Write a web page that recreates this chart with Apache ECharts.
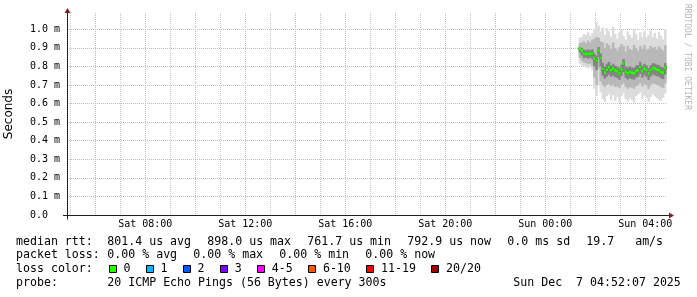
<!DOCTYPE html>
<html><head><meta charset="utf-8">
<script src="https://cdn.jsdelivr.net/npm/echarts@6/dist/echarts.min.js"></script>
<style>html,body{margin:0;padding:0;background:#fff}#c{width:697px;height:297px}</style>
</head><body><div id="c"></div>
<script>
const times = ['01:20','01:25','01:30','01:35','01:40','01:45','01:50','01:55',
  '02:00','02:05','02:10','02:15','02:20','02:25','02:30','02:35','02:40','02:45','02:50','02:55',
  '03:00','03:05','03:10','03:15','03:20','03:25','03:30','03:35','03:40','03:45','03:50','03:55',
  '04:00','04:05','04:10','04:15','04:20','04:25','04:30','04:35','04:40','04:45'];
const median = [0.896,0.885,0.868,0.868,0.868,0.868,0.868,0.842,0.830,0.884,0.846,0.786,0.768,0.782,
  0.796,0.780,0.789,0.779,0.774,0.763,0.784,0.815,0.771,0.763,0.770,0.766,0.763,0.775,0.780,0.797,
  0.774,0.789,0.780,0.762,0.780,0.792,0.789,0.783,0.780,0.770,0.767,0.793];
const smokeMax = [0.955,0.960,0.975,0.970,0.985,0.965,0.980,1.000,1.040,1.020,0.990,1.010,0.970,1.005,
  0.990,0.960,1.015,0.975,0.950,0.985,1.000,0.965,0.945,0.990,0.970,0.955,1.000,0.975,0.945,0.985,
  0.960,0.990,0.955,0.970,0.995,0.960,0.980,0.950,0.985,0.965,0.945,1.000];
const smokeP90 = [0.925,0.930,0.935,0.925,0.940,0.930,0.945,0.950,0.960,0.955,0.935,0.930,0.900,0.925,
  0.915,0.895,0.930,0.900,0.885,0.905,0.920,0.910,0.880,0.910,0.895,0.890,0.915,0.900,0.885,0.910,
  0.895,0.915,0.890,0.895,0.910,0.900,0.905,0.890,0.908,0.895,0.885,0.915];
const smokeP70 = [0.905,0.900,0.890,0.888,0.892,0.886,0.893,0.870,0.860,0.905,0.870,0.820,0.800,0.815,
  0.825,0.805,0.815,0.805,0.800,0.793,0.810,0.840,0.800,0.795,0.800,0.795,0.792,0.805,0.808,0.825,
  0.803,0.815,0.806,0.790,0.807,0.818,0.815,0.810,0.808,0.798,0.795,0.818];
const smokeP55 = [0.900,0.890,0.875,0.874,0.876,0.873,0.876,0.850,0.838,0.890,0.853,0.795,0.776,0.790,
  0.804,0.788,0.797,0.787,0.782,0.771,0.792,0.823,0.779,0.771,0.778,0.774,0.771,0.783,0.788,0.805,
  0.782,0.797,0.788,0.770,0.788,0.800,0.797,0.791,0.788,0.778,0.775,0.801];
const smokeP45 = [0.890,0.878,0.860,0.862,0.860,0.861,0.858,0.832,0.820,0.875,0.838,0.776,0.760,0.773,
  0.787,0.772,0.780,0.770,0.765,0.755,0.775,0.805,0.763,0.755,0.762,0.758,0.755,0.767,0.772,0.789,
  0.766,0.781,0.772,0.754,0.772,0.784,0.781,0.775,0.772,0.762,0.759,0.785];
const smokeP30 = [0.875,0.860,0.845,0.848,0.842,0.846,0.838,0.800,0.780,0.850,0.800,0.750,0.735,0.745,
  0.755,0.745,0.750,0.742,0.738,0.728,0.748,0.770,0.738,0.730,0.736,0.732,0.728,0.740,0.745,0.760,
  0.740,0.752,0.745,0.728,0.745,0.756,0.752,0.748,0.745,0.736,0.732,0.757];
const smokeP10 = [0.845,0.830,0.820,0.818,0.812,0.815,0.805,0.740,0.700,0.790,0.720,0.700,0.690,0.700,
  0.705,0.695,0.700,0.690,0.693,0.683,0.700,0.710,0.690,0.680,0.688,0.685,0.680,0.693,0.700,0.712,
  0.692,0.705,0.698,0.680,0.697,0.708,0.705,0.700,0.697,0.688,0.685,0.708];
const smokeMin = [0.815,0.805,0.800,0.795,0.790,0.798,0.780,0.680,0.640,0.700,0.660,0.625,0.610,0.640,
  0.650,0.620,0.645,0.615,0.635,0.605,0.640,0.655,0.625,0.610,0.630,0.620,0.605,0.640,0.650,0.660,
  0.625,0.645,0.630,0.610,0.635,0.650,0.640,0.630,0.620,0.615,0.630,0.655];

const xLabelHours = [8, 12, 16, 20, 24, 28];
const xLabels = ['Sat 08:00','Sat 12:00','Sat 16:00','Sat 20:00','Sun 00:00','Sun 04:00'];
const minorGridHours = [5,7,9,11,13,15,17,19,21,23,25,27];
const majorGridHours = [6,8,10,12,14,16,18,20,22,24,26,28];
const yTicks = [0, 0.1, 0.2, 0.3, 0.4, 0.5, 0.6, 0.7, 0.8, 0.9, 1.0];
const yTickLabels = ['0.0','0.1 m','0.2 m','0.3 m','0.4 m','0.5 m','0.6 m','0.7 m','0.8 m','0.9 m','1.0 m'];
const yAxisTitle = 'Seconds';
const watermark = 'RRDTOOL / TOBI OETIKER';

const rttTitle = 'median rtt:';
const rttStats = ['801.4 us avg','898.0 us max','761.7 us min','792.9 us now','0.0 ms sd','19.7   am/s'];
const lossTitle = 'packet loss:';
const lossStats = ['0.00 % avg','0.00 % max','0.00 % min','0.00 % now'];
const lossColorTitle = 'loss color:';
const lossColorLabels = ['0','1','2','3','4-5','6-10','11-19','20/20'];
const lossColors = ['#26ff00','#00b8ff','#0059ff','#7e00ff','#ff00ff','#ff5500','#ff0000','#a10000'];
const probeTitle = 'probe:';
const probeText = '20 ICMP Echo Pings (56 Bytes) every 300s';
const stampText = 'Sun Dec  7 04:52:07 2025';

const X_MIN = 4 + 52/60 + 7/3600;
const X_MAX = X_MIN + 24;
const STEP_H = 5/60;
const Y_MAX = 1.088;
const GRID = {left: 67, top: 13, width: 600, height: 202};
const MONO = 'DejaVu Sans Mono';
const AXIS_COLOR = '#1f1f1f', ARROW_COLOR = '#801f1f';
const MINOR_GRID = '#c8c8c8', MAJOR_GRID = '#f0a8a8';
const toH = s => { const p = s.split(':'); return 24 + (+p[0]) + (+p[1])/60; };

function bandSeries(lo, hi, color) {
  return {
    type: 'custom', xAxisIndex: 0, yAxisIndex: 0, silent: true, animation: false, z: 3,
    data: times.map((t, i) => [toH(t), lo[i], hi[i]]),
    renderItem: (params, api) => {
      const a = api.coord([api.value(0), api.value(2)]);
      const b = api.coord([api.value(0) + STEP_H, api.value(1)]);
      return {type: 'rect', shape: {x: a[0], y: a[1], width: b[0] - a[0] + 0.4, height: b[1] - a[1]},
              style: {fill: color}};
    }
  };
}
const medianSeries = {
  type: 'custom', xAxisIndex: 0, yAxisIndex: 0, silent: true, animation: false, z: 5,
  data: times.map((t, i) => [toH(t), median[i]]),
  renderItem: (params, api) => {
    const a = api.coord([api.value(0), api.value(1)]);
    const b = api.coord([api.value(0) + STEP_H, api.value(1)]);
    return {type: 'rect', shape: {x: a[0], y: a[1] - 1.5, width: b[0] - a[0] + 0.3, height: 3},
            style: {fill: lossColors[0]}};
  }
};

const CW = 7.0, GAP = 16, LX = 16, VX = 107.3;
const ROWS = [241.5, 255.3, 269.0, 282.8];
const txt = (x, y, s) => ({type: 'text', x: x, y: y, silent: true,
  style: {text: s, fill: '#000', font: '11.6px "' + MONO + '"', textAlign: 'left', textVerticalAlign: 'middle'}});
const graphics = [];
graphics.push(txt(LX, ROWS[0], rttTitle));
let x = VX;
rttStats.forEach(s => { graphics.push(txt(x, ROWS[0], s)); x += s.length * CW + GAP; });
graphics.push(txt(LX, ROWS[1], lossTitle));
x = VX;
lossStats.forEach(s => { graphics.push(txt(x, ROWS[1], s)); x += s.length * CW + GAP; });
graphics.push(txt(LX, ROWS[2], lossColorTitle));
x = 108.7;
lossColorLabels.forEach((s, i) => {
  graphics.push({type: 'rect', silent: true, shape: {x: Math.round(x) + 0.5, y: 265.5, width: 7, height: 7},
    style: {fill: lossColors[i], stroke: '#000', lineWidth: 1}});
  graphics.push(txt(x + 14.7, ROWS[2], s));
  x = x + 14.7 + s.length * CW + 15.4;
});
graphics.push(txt(LX, ROWS[3], probeTitle));
graphics.push(txt(VX, ROWS[3], probeText));
graphics.push(txt(513.3, ROWS[3], stampText));
graphics.push({type: 'text', x: 687, y: 4, rotation: -Math.PI / 2, silent: true,
  style: {text: watermark, fill: '#b4b4b4', font: '8px "' + MONO + '"', textAlign: 'left', textVerticalAlign: 'middle'}});
const ox = GRID.left + 0.5, oy = GRID.top + GRID.height + 0.5;
graphics.push({type: 'line', silent: true, shape: {x1: GRID.left - 4, y1: oy, x2: GRID.left + 1, y2: oy}, style: {stroke: AXIS_COLOR, lineWidth: 1}});
graphics.push({type: 'line', silent: true, shape: {x1: ox, y1: oy, x2: ox, y2: oy + 4}, style: {stroke: AXIS_COLOR, lineWidth: 1}});
graphics.push({type: 'polygon', silent: true, shape: {points: [[ox, GRID.top - 5], [ox - 3, GRID.top], [ox + 3, GRID.top]]}, style: {fill: ARROW_COLOR}});
const rx = GRID.left + GRID.width;
graphics.push({type: 'line', silent: true, shape: {x1: rx - 1, y1: oy, x2: rx + 2, y2: oy}, style: {stroke: AXIS_COLOR, lineWidth: 1}});
graphics.push({type: 'polygon', silent: true, shape: {points: [[rx + 7, oy], [rx + 2, oy - 3], [rx + 2, oy + 3]]}, style: {fill: ARROW_COLOR}});

const hiddenAxis = (vals, color) => ({
  type: 'value', position: 'bottom', min: X_MIN, max: X_MAX,
  axisLine: {show: false}, axisLabel: {show: false},
  axisTick: {show: false, customValues: vals},
  splitLine: {show: true, lineStyle: {color: color, width: 1, type: [1, 1]}}
});

const option = {
  backgroundColor: '#fff',
  animation: false,
  grid: Object.assign({containLabel: false, outerBoundsMode: 'none'}, GRID),
  xAxis: [
    hiddenAxis(minorGridHours, MINOR_GRID),
    hiddenAxis(majorGridHours, MAJOR_GRID),
    {
      type: 'value', position: 'bottom', min: X_MIN, max: X_MAX,
      axisLine: {show: true, lineStyle: {color: AXIS_COLOR, width: 1}},
      axisTick: {show: false, customValues: xLabelHours},
      splitLine: {show: false},
      axisLabel: {customValues: xLabelHours, margin: 4, color: '#000', fontFamily: MONO, fontSize: 10,
        formatter: v => xLabels[xLabelHours.indexOf(Math.round(v))] || ''}
    }
  ],
  yAxis: {
    type: 'value', min: 0, max: Y_MAX,
    name: yAxisTitle, nameLocation: 'middle', nameGap: 52, nameRotate: 90,
    nameTextStyle: {color: '#000', fontFamily: 'DejaVu Sans', fontSize: 12},
    axisLine: {show: true, lineStyle: {color: AXIS_COLOR, width: 1}},
    axisTick: {show: false, customValues: yTicks},
    axisLabel: {customValues: yTicks, align: 'left', margin: 37, color: '#000', fontFamily: MONO, fontSize: 10,
      formatter: v => { let k = -1; yTicks.forEach((t, i) => { if (Math.abs(t - v) < 1e-6) k = i; }); return k >= 0 ? yTickLabels[k] : ''; }},
    splitLine: {show: true, lineStyle: {color: MAJOR_GRID, width: 1, type: [1, 1]}}
  },
  series: [
    bandSeries(smokeMin, smokeMax, '#dcdcdc'),
    bandSeries(smokeP10, smokeP90, '#b8b8b8'),
    bandSeries(smokeP30, smokeP70, '#848484'),
    bandSeries(smokeP45, smokeP55, '#404040'),
    medianSeries
  ],
  graphic: graphics
};
const chart = echarts.init(document.getElementById('c'), null, {renderer: 'canvas'});
chart.setOption(option);
</script></body></html>
